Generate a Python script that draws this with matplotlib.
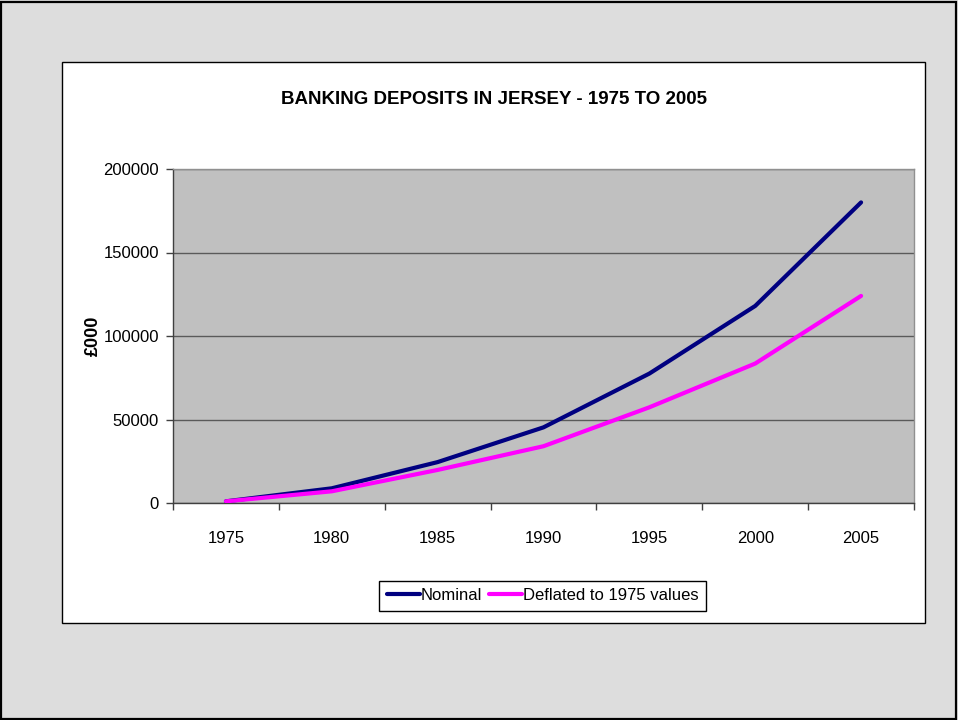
import matplotlib
matplotlib.use("Agg")
import matplotlib.pyplot as plt
import matplotlib.patches as mpatches
from matplotlib.ticker import FixedLocator

years = ["1975", "1980", "1985", "1990", "1995", "2000", "2005"]
nominal = [1000, 8800, 24500, 45300, 77500, 118000, 180000]
deflated = [1000, 7000, 19800, 34000, 57300, 83500, 124000]
yticks = [0, 50000, 100000, 150000, 200000]

FONT = ['Liberation Sans Narrow', 'Liberation Sans', 'DejaVu Sans']
plt.rcParams['font.family'] = FONT

W, H = 958, 720
fig = plt.figure(figsize=(W / 100, H / 100), dpi=100)
fig.patch.set_facecolor('#DDDDDD')

# outer border
fig.add_artist(mpatches.Rectangle((1 / W, 1 / H), (W - 3) / W, (H - 3) / H,
                                  transform=fig.transFigure, facecolor='none',
                                  edgecolor='black', lw=1.6))
# white chart panel
px0, py0, px1, py1 = 62, 62, 925, 623
fig.add_artist(mpatches.Rectangle((px0 / W, 1 - py1 / H), (px1 - px0) / W, (py1 - py0) / H,
                                  transform=fig.transFigure, facecolor='white',
                                  edgecolor='black', lw=1.0, zorder=0))

ax0, ay0, ax1, ay1 = 173, 169, 914, 503
ax = fig.add_axes([ax0 / W, 1 - ay1 / H, (ax1 - ax0) / W, (ay1 - ay0) / H])
ax.set_facecolor('#C0C0C0')

x = list(range(len(years)))
ax.plot(x, nominal, color='#000080', lw=3.0, solid_capstyle='round', label='Nominal', zorder=3)
ax.plot(x, deflated, color='#FF00FF', lw=3.0, solid_capstyle='round', label='Deflated to 1975 values', zorder=3)

ax.set_xlim(-0.5, len(years) - 0.5)
ax.set_ylim(0, 200000)
ax.set_xticks(x)
ax.set_xticklabels(years, fontsize=12)
ax.xaxis.set_minor_locator(FixedLocator([i - 0.5 for i in range(len(years) + 1)]))
ax.tick_params(axis='x', which='major', length=0, pad=20)
ax.tick_params(axis='x', which='minor', length=5, width=1, color='#404040', direction='out')
ax.set_yticks(yticks)
ax.set_yticklabels([str(v) for v in yticks], fontsize=12)
ax.tick_params(axis='y', length=5, width=1, color='#404040', pad=5, direction='out')

ax.grid(axis='y', color='#5a5a5a', lw=1.0, zorder=1)
ax.set_axisbelow(True)
for s in ['top', 'right']:
    ax.spines[s].set_color('#909090')
    ax.spines[s].set_linewidth(1.0)
for s in ['left', 'bottom']:
    ax.spines[s].set_color('#404040')
    ax.spines[s].set_linewidth(1.0)

fig.text(494 / W, 1 - 100 / H, 'BANKING DEPOSITS IN JERSEY - 1975 TO 2005',
         ha='center', va='center', fontsize=13.5, fontweight='bold')
fig.text(93 / W, 1 - 336 / H, '£000', rotation=90, ha='center', va='center',
         fontsize=13, fontweight='bold')

leg = fig.legend(loc='center', bbox_to_anchor=(542.5 / W, 1 - 595.5 / H), ncol=2,
                 fontsize=12, frameon=True, fancybox=False, edgecolor='black',
                 framealpha=1, handlelength=2.0, handletextpad=0.05,
                 columnspacing=0.4, borderpad=0.45, borderaxespad=0)
leg.get_frame().set_linewidth(1.0)

fig.savefig('out.png', dpi=100, facecolor=fig.get_facecolor())
